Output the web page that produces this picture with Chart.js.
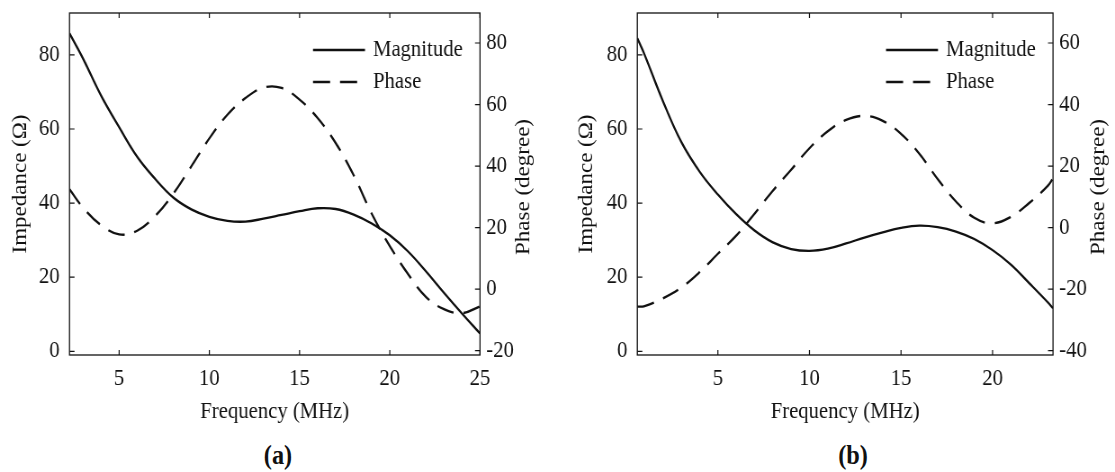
<!DOCTYPE html>
<html>
<head>
<meta charset="utf-8">
<script src="https://cdn.jsdelivr.net/npm/chart.js@4.4.1/dist/chart.umd.min.js"></script>
<style>
  body { margin: 0; background: #fff; width: 1115px; height: 472px; overflow: hidden; position: relative; }
  .panel { position: absolute; top: 0; height: 430px; transform-origin: 0 0; transform: scaleX(0.9); }
  .tag { position: absolute; top: 440px; font: bold 27px 'Liberation Serif', serif; color: #111; transform: translateX(-50%) scaleX(0.9); }
</style>
</head>
<body>
<div class="panel" style="left:0"><canvas id="chartA" width="619" height="430"></canvas></div>
<div class="panel" style="left:557px"><canvas id="chartB" width="620" height="430"></canvas></div>
<div class="tag" style="left:278px">(a)</div>
<div class="tag" style="left:853px">(b)</div>
<script>
// panel (a)
const freqA = [2.25, 3, 4, 5, 6, 7, 8, 9, 10, 11, 12, 13, 14, 15, 16, 17, 18, 19, 20, 21, 22, 23, 24, 25];
const magnitudeA = [85.8, 79, 69, 60.5, 52.5, 46.5, 41.5, 38.3, 36.3, 35.2, 35, 35.8, 36.8, 37.8, 38.6, 38.4, 36.9, 34.5, 31.3, 27, 21.6, 15.8, 10.2, 4.8];
const phaseA = [32.5, 26.5, 20.8, 17.8, 19, 23.8, 31, 39.9, 49, 56.7, 62.1, 65.5, 65.4, 61.6, 55.6, 47.5, 37, 24.5, 14, 5, -2.5, -6.5, -7.8, -5.6];

// panel (b)
const freqB = [0.6, 1, 2, 3, 4, 5, 6, 7, 8, 9, 10, 11, 12, 13, 14, 15, 16, 17, 18, 19, 20, 21, 22, 23, 23.3];
const magnitudeB = [84.5, 80, 67.5, 56.5, 48.5, 42.3, 37, 32.6, 29.4, 27.6, 27.1, 27.7, 29.1, 30.7, 32.1, 33.3, 33.9, 33.5, 32.3, 30.3, 27.3, 23.4, 18.4, 13.3, 11.6];
const phaseB = [-25.7, -25.5, -23, -19.5, -14.5, -8.5, -2.6, 4.5, 12, 18.8, 25.8, 31.3, 35, 36.3, 34.7, 30.5, 24, 15.8, 8.5, 3.2, 1.4, 3.5, 8, 13.5, 16];

// tick labels
const freqTicksA = [5, 10, 15, 20, 25];
const freqTicksB = [5, 10, 15, 20];
const impedanceTicks = [0, 20, 40, 60, 80];
const phaseTicksA = [-20, 0, 20, 40, 60, 80];
const phaseTicksB = [-40, -20, 0, 20, 40, 60];

const FONT = 'Liberation Serif';
const FONT_SIZE = 23;
const INK = '#111';
const SX = 0.9; // the panels are squeezed horizontally by this factor (narrow serif look)

function points(xs, ys) {
  return xs.map((x, i) => ({ x, y: ys[i] }));
}

function fixedTicks(values) {
  return (scale) => { scale.ticks = values.map((v) => ({ value: v })); };
}

function noPadding(s) {
  s.paddingTop = 0;
  s.paddingBottom = 0;
  s.paddingLeft = 0;
  s.paddingRight = 0;
}

// MATLAB-like box with inward ticks, right axis title and the legend
const framePlugin = {
  id: 'frame',
  afterDraw(chart, args, opts) {
    const { ctx, chartArea: a, scales } = chart;
    const tick = 5;
    ctx.save();
    ctx.strokeStyle = INK;
    ctx.lineWidth = 1.3;
    ctx.strokeRect(a.left, a.top, a.right - a.left, a.bottom - a.top);

    ctx.lineWidth = 1.2;
    ctx.beginPath();
    scales.x.ticks.forEach((t) => {
      const px = scales.x.getPixelForValue(t.value);
      ctx.moveTo(px, a.bottom); ctx.lineTo(px, a.bottom - tick);
      ctx.moveTo(px, a.top); ctx.lineTo(px, a.top + tick);
    });
    scales.y.ticks.forEach((t) => {
      const py = scales.y.getPixelForValue(t.value);
      ctx.moveTo(a.left, py); ctx.lineTo(a.left + tick / SX, py);
    });
    scales.y1.ticks.forEach((t) => {
      const py = scales.y1.getPixelForValue(t.value);
      ctx.moveTo(a.right, py); ctx.lineTo(a.right - tick / SX, py);
    });
    ctx.stroke();

    // right axis title, reading bottom to top
    ctx.fillStyle = INK;
    ctx.font = FONT_SIZE + 'px "' + FONT + '"';
    ctx.textAlign = 'center';
    ctx.textBaseline = 'middle';
    ctx.translate(opts.rightTitleX, (a.top + a.bottom) / 2 + 3);
    ctx.rotate(-Math.PI / 2);
    ctx.fillText(scales.y1.options.title.text, 0, 0);
    ctx.restore();

    // legend
    ctx.save();
    ctx.font = FONT_SIZE + 'px "' + FONT + '"';
    ctx.textBaseline = 'middle';
    ctx.fillStyle = INK;
    chart.data.datasets.forEach((ds, i) => {
      const y = a.top + 37 + i * 32;
      const x0 = a.right - 167 / SX;
      ctx.strokeStyle = ds.borderColor;
      ctx.lineWidth = ds.borderWidth;
      ctx.setLineDash(ds.borderDash || []);
      ctx.beginPath();
      ctx.moveTo(x0, y);
      ctx.lineTo(x0 + 52 / SX, y);
      ctx.stroke();
      ctx.setLineDash([]);
      ctx.fillText(ds.label, x0 + 60 / SX, y);
    });
    ctx.restore();
  }
};

function makeChart(id, cfg) {
  const tickFont = { family: FONT, size: FONT_SIZE };
  const canvas = document.getElementById(id);
  const plotRight = cfg.plotRight / SX;
  return new Chart(canvas, {
    type: 'line',
    data: {
      datasets: [
        {
          label: 'Magnitude',
          data: points(cfg.freq, cfg.magnitude),
          yAxisID: 'y',
          borderColor: INK,
          borderWidth: 2.3,
          pointRadius: 0,
          tension: 0.4
        },
        {
          label: 'Phase',
          data: points(cfg.freq, cfg.phase),
          yAxisID: 'y1',
          borderColor: INK,
          borderWidth: 2.3,
          borderDash: [19, 11],
          pointRadius: 0,
          tension: 0.4
        }
      ]
    },
    options: {
      responsive: false,
      animation: false,
      layout: { padding: { top: 13, left: 0, right: 0, bottom: 0 } },
      plugins: {
        legend: { display: false },
        tooltip: { enabled: false },
        frame: { rightTitleX: cfg.rightTitleX / SX }
      },
      scales: {
        x: {
          type: 'linear',
          min: cfg.xMin,
          max: cfg.xMax,
          afterBuildTicks: fixedTicks(cfg.freqTicks),
          afterFit: (s) => { s.height = 75; noPadding(s); },
          grid: { display: false, drawTicks: false },
          border: { display: false },
          ticks: { font: tickFont, color: INK, padding: 10, maxRotation: 0 },
          title: {
            display: true,
            text: 'Frequency (MHz)',
            font: tickFont,
            color: INK,
            padding: { top: 4, bottom: 4 }
          }
        },
        y: {
          position: 'left',
          min: -1,
          max: 91.3,
          afterBuildTicks: fixedTicks(impedanceTicks),
          afterFit: (s) => { s.width = cfg.plotLeft / SX; noPadding(s); },
          grid: { display: false, drawTicks: false },
          border: { display: false },
          ticks: { font: tickFont, color: INK, padding: 11 },
          title: {
            display: true,
            text: 'Impedance (Ω)',
            font: tickFont,
            color: INK,
            padding: { top: cfg.leftTitleX / SX - FONT_SIZE * 0.6, bottom: 0 }
          }
        },
        y1: {
          position: 'right',
          min: cfg.phaseMin,
          max: cfg.phaseMax,
          afterBuildTicks: fixedTicks(cfg.phaseTicks),
          afterFit: (s) => { s.width = canvas.width - plotRight; noPadding(s); },
          grid: { display: false, drawTicks: false },
          border: { display: false },
          ticks: { font: tickFont, color: INK, padding: 7 },
          title: { display: false, text: 'Phase (degree)' }
        }
      }
    },
    plugins: [framePlugin]
  });
}

makeChart('chartA', {
  freq: freqA, magnitude: magnitudeA, phase: phaseA,
  freqTicks: freqTicksA, phaseTicks: phaseTicksA,
  xMin: 2.25, xMax: 25,
  phaseMin: -21.4, phaseMax: 89.75,
  plotLeft: 69.5, plotRight: 480, leftTitleX: 20.5, rightTitleX: 524
});

makeChart('chartB', {
  freq: freqB, magnitude: magnitudeB, phase: phaseB,
  freqTicks: freqTicksB, phaseTicks: phaseTicksB,
  xMin: 0.6, xMax: 23.3,
  phaseMin: -41.4, phaseMax: 69.75,
  plotLeft: 80.3, plotRight: 496, leftTitleX: 30, rightTitleX: 542
});
</script>
</body>
</html>
